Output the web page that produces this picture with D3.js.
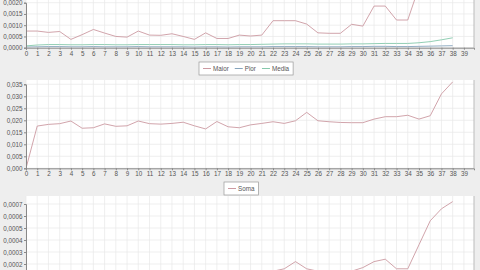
<!DOCTYPE html>
<html>
<head>
<meta charset="utf-8">
<script src="https://cdn.jsdelivr.net/npm/d3@7"></script>
<style>
  body { margin: 0; background: #eeeeee; }
  svg { display: block; }
  text { font-family: "Liberation Sans", Arial, sans-serif; }
</style>
</head>
<body>
<script>
// dados (geracoes 0..38)
var geracoes = d3.range(0, 39)
var ticksX = d3.range(0, 40)

var maior = [0.00074,0.00074,0.00068,0.00072,0.00037,0.00058,0.00081,0.00065,0.00050,0.00047,
             0.00074,0.00056,0.00055,0.00062,0.00050,0.00037,0.00066,0.00041,0.00041,0.00056,
             0.00052,0.00056,0.00120,0.00120,0.00120,0.00105,0.00066,0.00064,0.00064,0.00104,
             0.00096,0.00185,0.00185,0.00123,0.00123,0.00270,0.00300,0.00320,0.00340]
var pior  = [0.00003,0.00004,0.00005,0.00005,0.00004,0.00004,0.00005,0.00004,0.00004,0.00004,
             0.00005,0.00004,0.00004,0.00004,0.00004,0.00003,0.00004,0.00004,0.00003,0.00004,
             0.00004,0.00004,0.00005,0.00005,0.00005,0.00005,0.00004,0.00004,0.00004,0.00005,
             0.00005,0.00006,0.00006,0.00005,0.00005,0.00006,0.00007,0.00008,0.00009]
var media = [0.00008,0.00012,0.00014,0.00014,0.00013,0.00013,0.00014,0.00014,0.00013,0.00013,
             0.00014,0.00014,0.00014,0.00014,0.00013,0.00013,0.00014,0.00014,0.00013,0.00014,
             0.00014,0.00015,0.00016,0.00017,0.00017,0.00017,0.00016,0.00016,0.00016,0.00017,
             0.00017,0.00018,0.00019,0.00019,0.00019,0.00022,0.00027,0.00035,0.00044]

var soma = [0.0000,0.0176,0.0183,0.0186,0.0197,0.0167,0.0169,0.0185,0.0175,0.0177,
            0.0197,0.0186,0.0184,0.0187,0.0192,0.0177,0.0164,0.0195,0.0173,0.0169,
            0.0181,0.0187,0.0194,0.0187,0.0198,0.0233,0.0198,0.0194,0.0191,0.0190,
            0.0190,0.0205,0.0215,0.0215,0.0221,0.0205,0.0219,0.0310,0.0360]

var terceira = [0.00008,0.00010,0.00010,0.00011,0.00010,0.00009,0.00010,0.00011,0.00010,0.00010,
                0.00011,0.00010,0.00010,0.00011,0.00010,0.00009,0.00010,0.00010,0.00010,0.00011,
                0.00011,0.00012,0.00014,0.00016,0.00022,0.00016,0.00014,0.00013,0.00013,0.00014,
                0.00017,0.00022,0.00024,0.00016,0.00016,0.00036,0.00056,0.00066,0.00072]

var svg = d3.select("body").append("svg")
    .attr("width", 480)
    .attr("height", 270)

svg.append("rect").attr("width", 480).attr("height", 270).attr("fill", "#eeeeee")

var x = d3.scaleLinear().domain([0, 39.9]).range([26, 474])
var fmt = function (casas) {
  return function (d) { return d3.format("." + casas + "f")(d).replace(".", ",") }
}

// desenha um painel: area branca, grade, eixos e linhas
function painel(cfg) {
  var y = d3.scaleLinear().domain([0, cfg.y1val]).range([cfg.y0px, cfg.y1px])
  var topo = cfg.top, baixo = Math.min(cfg.y0px, 300)
  var g = svg.append("g")

  g.append("rect")
    .attr("x", x.range()[0]).attr("y", topo)
    .attr("width", x.range()[1] - x.range()[0]).attr("height", baixo - topo)
    .attr("fill", "#ffffff")

  // grade
  g.append("g").selectAll("line").data(ticksX).enter().append("line")
    .attr("x1", d => x(d)).attr("x2", d => x(d))
    .attr("y1", topo).attr("y2", baixo)
    .attr("stroke", "#e8e8e8").attr("stroke-width", 0.7)
  g.append("g").selectAll("line").data(cfg.ticksY).enter().append("line")
    .attr("x1", x.range()[0]).attr("x2", x.range()[1])
    .attr("y1", d => y(d)).attr("y2", d => y(d))
    .attr("stroke", "#e8e8e8").attr("stroke-width", 0.7)

  var clipId = "clip" + cfg.id
  svg.append("clipPath").attr("id", clipId).append("rect")
    .attr("x", x.range()[0]).attr("y", topo)
    .attr("width", x.range()[1] - x.range()[0]).attr("height", baixo - topo)

  var linha = d3.line().x((d, i) => x(geracoes[i])).y(d => y(d))
  cfg.series.forEach(function (s) {
    g.append("path").datum(s.valores)
      .attr("clip-path", "url(#" + clipId + ")")
      .attr("d", linha)
      .attr("fill", "none")
      .attr("stroke", s.cor)
      .attr("stroke-width", 0.9)
  })

  // eixo y
  var ay = g.append("g").attr("transform", "translate(" + x.range()[0] + ",0)")
    .call(d3.axisLeft(y).tickValues(cfg.ticksY).tickFormat(fmt(cfg.casas)).tickSize(2).tickPadding(1.5))
  ay.select(".domain").attr("stroke", "#888")
  ay.selectAll("line").attr("stroke", "#888")
  ay.selectAll("text").attr("font-size", 6.3).attr("fill", "#555")

  // borda direita
  g.append("line").attr("x1", x.range()[1]).attr("x2", x.range()[1])
    .attr("y1", topo).attr("y2", baixo).attr("stroke", "#bbbbbb")

  if (cfg.y0px < 270) {
    var ax = g.append("g").attr("transform", "translate(0," + cfg.y0px + ")")
      .call(d3.axisBottom(x).tickValues(ticksX).tickFormat(d3.format("d")).tickSize(2).tickPadding(1.5))
    ax.select(".domain").attr("stroke", "#888")
    ax.selectAll("line").attr("stroke", "#888")
    ax.selectAll("text").attr("font-size", 6.3).attr("fill", "#555")
  }

  if (cfg.legenda) {
    var L = cfg.legenda
    var lg = svg.append("g")
    var caixa = lg.append("rect").attr("x", L.x).attr("y", L.y).attr("height", 13)
      .attr("fill", "#ffffff").attr("stroke", "#999").attr("stroke-width", 0.7)
    var px = L.x + 4
    cfg.series.forEach(function (s, i) {
      if (i > 0) px += 6
      lg.append("line").attr("x1", px).attr("x2", px + 8)
        .attr("y1", L.y + 6.5).attr("y2", L.y + 6.5).attr("stroke", s.cor)
      var t = lg.append("text").attr("x", px + 10).attr("y", L.y + 8.8)
        .attr("font-size", 6.3).attr("fill", "#555").text(s.nome)
      px += 10 + t.node().getComputedTextLength()
    })
    caixa.attr("width", px + 4 - L.x)
  }
}

painel({
  id: 1, top: -20, y0px: 47.7, y1px: 2.7, y1val: 0.0020,
  ticksY: [0, 0.0005, 0.0010, 0.0015, 0.0020], casas: 4,
  series: [
    {nome: "Maior", valores: maior, cor: "#cc9aa2"},
    {nome: "Pior", valores: pior, cor: "#86a4bc"},
    {nome: "Media", valores: media, cor: "#86c8ac"}
  ],
  legenda: {x: 199, y: 62}
})

painel({
  id: 2, top: 80, y0px: 168.3, y1px: 84.3, y1val: 0.035,
  ticksY: [0, 0.005, 0.010, 0.015, 0.020, 0.025, 0.030, 0.035], casas: 3,
  series: [{nome: "Soma", valores: soma, cor: "#cc9aa2"}],
  legenda: {x: 224, y: 182}
})

painel({
  id: 3, top: 196, y0px: 288, y1px: 204, y1val: 0.0007,
  ticksY: [0.0002, 0.0003, 0.0004, 0.0005, 0.0006, 0.0007], casas: 4,
  series: [{nome: "Var", valores: terceira, cor: "#cc9aa2"}]
})
</script>
</body>
</html>
